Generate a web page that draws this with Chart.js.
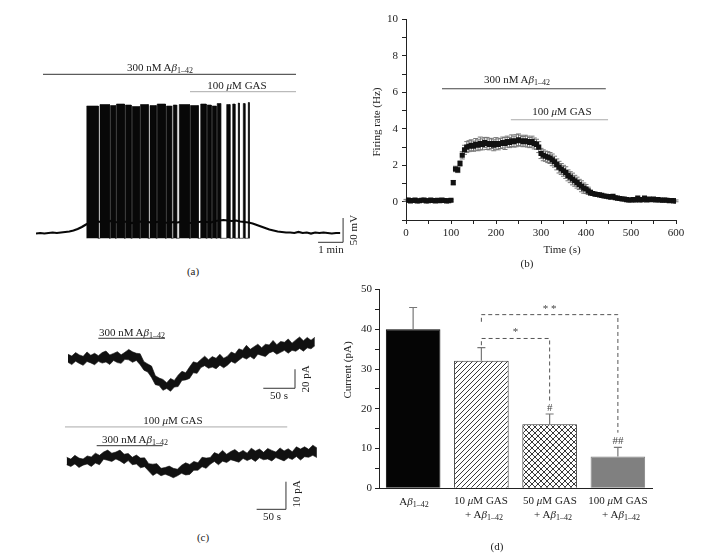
<!DOCTYPE html>
<html>
<head>
<meta charset="utf-8">
<script src="https://cdn.jsdelivr.net/npm/chart.js@4.4.1/dist/chart.umd.min.js"></script>
<style>
  body { margin: 0; background: #fff; }
  #fig { position: relative; width: 728px; height: 553px; overflow: hidden;
         font-family: "Liberation Serif", serif; font-size: 11px; color: #222; }
  #fig canvas { position: absolute; }
  .t { position: absolute; white-space: nowrap; line-height: 1; transform: translate(-50%, -50%); }
  .r { width: 120px; height: 14px; line-height: 14px; margin: -7px 0 0 -60px;
       text-align: center; transform: rotate(-90deg); }
  sub { font-size: 8px; vertical-align: -2px; line-height: 0; }
</style>
</head>
<body>
<div id="fig">
  <canvas id="chartA" width="320" height="190" style="left:36px;top:60px"></canvas>
  <canvas id="chartB" width="330" height="262" style="left:360px;top:8px"></canvas>
  <canvas id="chartC1" width="260" height="75" style="left:60px;top:330px"></canvas>
  <canvas id="chartC2" width="260" height="110" style="left:60px;top:415px"></canvas>
  <canvas id="chartD" width="328" height="270" style="left:334px;top:280px"></canvas>

  <!-- panel (a) -->
  <div class="t" style="left:160px;top:67px">300 nM A<i>β</i><sub>1–42</sub></div>
  <div class="t" style="left:237px;top:85px">100 <i>μ</i>M GAS</div>
  <div class="t r" style="left:353px;top:230px">50 mV</div>
  <div class="t" style="left:331px;top:249px">1 min</div>
  <div class="t" style="left:193px;top:271px">(a)</div>

  <!-- panel (b) -->
  <div class="t" style="left:517px;top:79px">300 nM A<i>β</i><sub>1–42</sub></div>
  <div class="t" style="left:562px;top:111px">100 <i>μ</i>M GAS</div>
  <div class="t r" style="left:376px;top:122px">Firing rate (Hz)</div>
  <div class="t" style="left:562px;top:249px">Time (s)</div>
  <div class="t" style="left:527px;top:263px">(b)</div>

  <!-- panel (c) -->
  <div class="t" style="left:132px;top:332px">300 nM A<i>β</i><sub>1–42</sub></div>
  <div class="t" style="left:279px;top:395px">50 s</div>
  <div class="t r" style="left:305px;top:379px">20 pA</div>
  <div class="t" style="left:173px;top:420px">100 <i>μ</i>M GAS</div>
  <div class="t" style="left:135px;top:439px">300 nM A<i>β</i><sub>1–42</sub></div>
  <div class="t r" style="left:296px;top:494px">10 pA</div>
  <div class="t" style="left:272px;top:516px">50 s</div>
  <div class="t" style="left:203px;top:537px">(c)</div>

  <!-- panel (d) -->
  <div class="t r" style="left:347px;top:370px">Current (pA)</div>
  <div class="t" style="left:414px;top:501px">A<i>β</i><sub>1–42</sub></div>
  <div class="t" style="left:481px;top:500px">10 <i>μ</i>M GAS</div>
  <div class="t" style="left:484px;top:514px">+ A<i>β</i><sub>1–42</sub></div>
  <div class="t" style="left:550px;top:500px">50 <i>μ</i>M GAS</div>
  <div class="t" style="left:553px;top:514px">+ A<i>β</i><sub>1–42</sub></div>
  <div class="t" style="left:618px;top:500px">100 <i>μ</i>M GAS</div>
  <div class="t" style="left:621px;top:514px">+ A<i>β</i><sub>1–42</sub></div>
  <div class="t" style="left:497px;top:546px">(d)</div>
</div>

<script>
// ---------------------------------------------------------------------------
// Data
// ---------------------------------------------------------------------------

// (a) membrane potential trace, time in s, potential in mV (relative to rest)
const aTraceTime = [
  0, 10, 20, 30, 40, 50, 60, 70, 80, 90,
  100, 110, 120, 130, 140, 150, 160, 170, 180, 190,
  200, 210, 220, 230, 240, 250, 260, 270, 280, 290,
  300, 310, 320, 330, 340, 350, 360, 370, 380, 390,
  400, 410, 420, 430, 440, 450, 460, 470, 480, 490,
  500, 510, 520, 530, 540, 550, 560, 570, 580, 590,
  600, 610, 620, 630, 640, 650, 660, 670, 680, 690,
  700, 710, 720, 730
];
const aTraceValue = [
  -1, 0, -1, 0, 1, 0, 1, 2, 3, 5,
  8, 12, 17, 21, 22, 23, 21, 22, 24, 22,
  21, 23, 22, 20, 22, 23, 21, 22, 20, 22,
  23, 21, 20, 22, 21, 23, 22, 20, 21, 22,
  23, 22, 21, 24, 25, 26, 25, 24, 25, 23,
  22, 21, 19, 16, 13, 10, 7, 5, 3, 2,
  1, 1, 0, 2, 0, 1, -1, 1, 0, 1,
  0, -1, 0, 0
];
// spike bursts: start / end time (s) and peak (mV)
const aBurstStart = [121.7, 153.6, 178.8, 193.2, 214.8, 230.9, 250.8, 273.6, 290.9, 313.2, 329.5,
                     343.9, 370.8, 395.3, 410.9, 422.9, 434.9, 457.7, 472.1, 485.5, 497.5, 509.5];
const aBurstEnd   = [149.5, 176.4, 190.8, 212.4, 228.5, 248.4, 269.5, 288.5, 310.8, 325.7, 337.7,
                     368.4, 389.5, 408.5, 420.5, 432.5, 443.3, 465.6, 477.6, 487.9, 501.6, 511.9];
const aBurstPeak  = [254, 257, 255, 258, 256, 253, 257, 255, 258, 254, 256,
                     257, 255, 258, 256, 254, 259, 257, 258, 260, 259, 261];
const aSpikeTrough = -10.6;

// (b) firing rate (Hz) vs time (s), mean and SEM
const rateTime = [
  0, 5, 10, 15, 20, 25, 30, 35, 40, 45,
  50, 55, 60, 65, 70, 75, 80, 85, 90, 95,
  100, 105, 110, 115, 120, 125, 130, 135, 140, 145,
  150, 155, 160, 165, 170, 175, 180, 185, 190, 195,
  200, 205, 210, 215, 220, 225, 230, 235, 240, 245,
  250, 255, 260, 265, 270, 275, 280, 285, 290, 295,
  300, 305, 310, 315, 320, 325, 330, 335, 340, 345,
  350, 355, 360, 365, 370, 375, 380, 385, 390, 395,
  400, 405, 410, 415, 420, 425, 430, 435, 440, 445,
  450, 455, 460, 465, 470, 475, 480, 485, 490, 495,
  500, 505, 510, 515, 520, 525, 530, 535, 540, 545,
  550, 555, 560, 565, 570, 575, 580, 585, 590, 595,
  600
];
const rateMean = [
  0.08, 0.10, 0.05, 0.07, 0.10, 0.04, 0.06, 0.08, 0.10, 0.05,
  0.06, 0.09, 0.07, 0.05, 0.08, 0.06, 0.10, 0.07, 0.05, 0.06,
  0.08, 1.05, 1.80, 1.75, 2.10, 2.55, 2.85, 3.00, 3.05, 3.10,
  3.05, 3.15, 3.10, 3.20, 3.15, 3.25, 3.20, 3.15, 3.20, 3.10,
  3.20, 3.15, 3.20, 3.25, 3.20, 3.30, 3.25, 3.35, 3.30, 3.35,
  3.40, 3.35, 3.30, 3.35, 3.30, 3.25, 3.30, 3.20, 3.15, 3.00,
  2.65, 2.55, 2.50, 2.45, 2.40, 2.30, 2.20, 2.05, 1.90, 1.80,
  1.70, 1.60, 1.45, 1.35, 1.25, 1.15, 1.05, 0.95, 0.85, 0.75,
  0.70, 0.60, 0.50, 0.45, 0.42, 0.40, 0.38, 0.35, 0.32, 0.30,
  0.28, 0.25, 0.30, 0.22, 0.20, 0.18, 0.15, 0.15, 0.12, 0.10,
  0.10, 0.12, 0.10, 0.20, 0.10, 0.12, 0.20, 0.10, 0.15, 0.12,
  0.15, 0.10, 0.12, 0.10, 0.08, 0.10, 0.08, 0.06, 0.07, 0.05,
  0.05
];
const rateSem = [
  0.05, 0.05, 0.05, 0.05, 0.05, 0.05, 0.05, 0.05, 0.05, 0.05,
  0.05, 0.05, 0.05, 0.05, 0.05, 0.05, 0.05, 0.05, 0.05, 0.05,
  0.05, 0.12, 0.15, 0.15, 0.15, 0.20, 0.25, 0.30, 0.30, 0.30,
  0.28, 0.32, 0.30, 0.35, 0.30, 0.28, 0.33, 0.30, 0.28, 0.30,
  0.32, 0.30, 0.28, 0.30, 0.33, 0.30, 0.28, 0.32, 0.30, 0.33,
  0.32, 0.30, 0.28, 0.30, 0.30, 0.28, 0.30, 0.30, 0.28, 0.30,
  0.28, 0.30, 0.28, 0.30, 0.30, 0.32, 0.30, 0.30, 0.32, 0.30,
  0.30, 0.32, 0.30, 0.30, 0.32, 0.30, 0.30, 0.28, 0.30, 0.28,
  0.25, 0.20, 0.15, 0.10, 0.08, 0.08, 0.06, 0.06, 0.05, 0.05,
  0.05, 0.05, 0.05, 0.05, 0.05, 0.05, 0.05, 0.05, 0.05, 0.05,
  0.05, 0.05, 0.05, 0.05, 0.05, 0.05, 0.05, 0.05, 0.05, 0.05,
  0.05, 0.05, 0.05, 0.05, 0.05, 0.05, 0.05, 0.05, 0.05, 0.05,
  0.05
];

// (c) holding current traces: time (s), centre (pA) and noise envelope (pA)
const c1Time = [
  0, 6, 12, 18, 24, 30, 36, 42, 48, 54,
  60, 66, 72, 78, 84, 90, 96, 102, 108, 114,
  120, 126, 132, 138, 144, 150, 156, 162, 168, 174,
  180, 186, 192, 198, 204, 210, 216, 222, 228, 234,
  240, 246, 252, 258, 264, 270, 276, 282, 288, 294,
  300, 306, 312, 318, 324, 330, 336, 342, 348, 354,
  360, 366, 372, 378, 384, 390
];
const c1Current = [
  0, 0.1, 0.2, 0.3, 0.3, 0.4, 0.4, 0.5, 0.5, 0.7,
  0.9, 1.2, 1.4, 1.7, 1.9, 2.1, 3.1, 4.0, 2.0, -1.0,
  -5.8, -10.7, -15, -20, -24.5, -27.5, -28.5, -27.5, -25.5, -22,
  -19.5, -17, -14, -11, -7.6, -5, -4, -3.8, -3.5, -3.3,
  -3, -2.8, -2, 0.4, 2.4, 4.2, 5.3, 5.9, 6.7, 7.4,
  8.1, 8.8, 9.5, 10.3, 11, 11.5, 12, 12.6, 13.1, 13.6,
  14.1, 14.6, 15.2, 15.7, 16.2, 16.8
];
const c1NoiseUp = [
  5, 3, 6.5, 4, 2.5, 7, 3.5, 5.5, 3, 6,
  7.5, 3, 4.5, 6, 2.5, 5, 7, 3.5, 4, 6.5,
  3, 5.5, 7.5, 2.5, 4.5, 6, 3.5, 7, 3, 5,
  6.5, 2.5, 5.5, 8, 3.5, 4.5, 7, 3, 6, 4,
  8, 3.5, 5, 7, 3, 6.5, 4, 8.5, 3.5, 5.5,
  7.5, 3, 6, 4.5, 8.5, 3.5, 6.5, 5, 8, 3,
  6, 8.5, 4, 7, 3.5, 6
];
const c1NoiseDown = [
  3.5, 6, 2.5, 5, 7, 3, 4.5, 6.5, 3, 5,
  4, 7, 3, 5.5, 6.5, 2.5, 4, 7.5, 3.5, 5,
  6, 3, 4.5, 7, 3.5, 5.5, 2.5, 6.5, 4, 7,
  3, 5, 6.5, 3.5, 7.5, 4, 3, 6, 5, 7,
  3.5, 6.5, 4.5, 3, 7, 5.5, 3.5, 6, 4, 7.5,
  3, 5, 7, 4, 3, 6.5, 5, 3.5, 7, 4.5,
  6, 3.5, 7, 4, 5.5, 3
];
const c2Time = [
  0, 7, 14, 21, 28, 35, 42, 49, 56, 63,
  70, 77, 84, 91, 98, 105, 112, 119, 126, 133,
  140, 147, 154, 161, 168, 175, 182, 189, 196, 203,
  210, 217, 224, 231, 238, 245, 252, 259, 266, 273,
  280, 287, 294, 301, 308, 315, 322, 329, 336, 343,
  350, 357, 364, 371, 378, 385, 392, 399, 406, 413,
  420, 427
];
const c2Current = [
  0, 0.05, 0.1, 0.1, 0.15, 0.2, 0.3, 0.8, 1.3, 1.8,
  2.1, 2.2, 2.0, 1.8, 1.6, 1.2, 0.8, 0.4, 0, -0.8,
  -1.7, -2.6, -3.0, -3.3, -3.6, -3.7, -3.6, -3.5, -3.2, -2.8,
  -2.3, -1.9, -1.4, -0.9, -0.3, 0.6, 1.1, 1.3, 1.5, 1.6,
  1.8, 1.9, 2.0, 2.1, 2.2, 2.3, 2.4, 2.4, 2.4, 2.4,
  2.4, 2.4, 2.4, 2.5, 2.6, 2.7, 2.9, 3.0, 3.1, 3.3,
  3.4, 3.5
];
const c2NoiseUp = [
  1.6, 0.9, 2.2, 1.2, 0.8, 1.9, 1.4, 2.3, 1.0, 1.7,
  2.1, 0.9, 1.5, 2.4, 1.1, 1.8, 0.8, 2.0, 1.3, 2.2,
  1.0, 1.7, 2.3, 0.9, 1.5, 2.1, 1.2, 0.8, 1.9, 2.4,
  1.3, 2.0, 1.0, 2.5, 1.6, 0.9, 2.2, 1.4, 2.6, 1.1,
  1.9, 2.5, 1.2, 2.0, 0.9, 2.6, 1.5, 2.2, 1.0, 2.4,
  1.7, 1.1, 2.6, 1.4, 2.1, 0.9, 2.5, 1.6, 2.3, 1.2,
  2.6, 1.5
];
const c2NoiseDown = [
  1.1, 1.8, 0.9, 2.2, 1.4, 1.0, 2.0, 1.3, 2.4, 0.9,
  1.6, 2.1, 1.0, 1.5, 2.3, 0.8, 1.9, 1.2, 2.2, 1.0,
  1.7, 2.4, 1.1, 1.8, 0.9, 1.4, 2.2, 1.6, 1.0, 2.0,
  2.3, 1.2, 1.7, 0.9, 2.1, 1.5, 1.0, 2.4, 1.3, 1.9,
  1.1, 1.6, 2.2, 0.9, 1.8, 1.2, 2.3, 1.0, 1.7, 1.4,
  2.1, 0.9, 1.5, 2.2, 1.2, 1.9, 1.0, 2.4, 1.3, 1.7,
  1.1, 2.0
];

// (d) current amplitude (pA), mean and SEM per group
const currentGroups = ["Aβ1-42", "10 μM GAS + Aβ1-42", "50 μM GAS + Aβ1-42", "100 μM GAS + Aβ1-42"];
const currentMean = [40.0, 32.1, 16.1, 8.0];
const currentSem = [5.5, 3.3, 2.6, 2.3];
const currentHash = ["", "", "#", "##"];

// ---------------------------------------------------------------------------
// Annotation geometry (drug application bars, scale bars, brackets) in data units
// ---------------------------------------------------------------------------
const aAbetaBar = [16.8, 624, 317.4];
const aGasBar = [369.6, 624, 282.6];
const aScaleBar = { x0: 677, x1: 737, y0: -18.6, y1: 30 };

const bAbetaBar = [80, 444, 6.2];
const bGasBar = [233, 449, 4.5];

const c1AbetaBar = [47.9, 153.3, 21.8];
const c1ScaleBar = { x0: 308.6, x1: 358.7, y0: -30.8, y1: -10.8 };
const c2GasBar = [-2.9, 376.4, 12.6];
const c2AbetaBar = [51.2, 163.8, 5.8];
const c2ScaleBar = { x0: 324.2, x1: 374.2, y0: -17.25, y1: -7.25 };

const dBrackets = [
  { from: 1, to: 2, top: 37.7, leftEnd: 36.0, rightEnd: 21.4, text: "*" },
  { from: 1, to: 3, top: 43.7, leftEnd: 41.9, rightEnd: 14.0, text: "* *" }
];

// ---------------------------------------------------------------------------
// Shared settings
// ---------------------------------------------------------------------------
Chart.defaults.font.family = '"Liberation Serif", serif';
Chart.defaults.font.size = 11;
Chart.defaults.color = "#222";

function hline(bar, color) {
  return {
    type: "line",
    data: [{ x: bar[0], y: bar[2] }, { x: bar[1], y: bar[2] }],
    borderColor: color, borderWidth: 1, pointRadius: 0
  };
}

function scaleBarSet(sb) {
  return {
    type: "line",
    data: [{ x: sb.x0, y: sb.y0 }, { x: sb.x1, y: sb.y0 }, { x: sb.x1, y: sb.y1 }],
    borderColor: "#333", borderWidth: 1, pointRadius: 0
  };
}

function traceOptions(xMin, xMax, yMin, yMax) {
  return {
    responsive: false,
    animation: false,
    events: [],
    layout: { padding: 0 },
    plugins: { legend: { display: false }, tooltip: { enabled: false } },
    scales: {
      x: { type: "linear", display: false, min: xMin, max: xMax },
      y: { type: "linear", display: false, min: yMin, max: yMax }
    }
  };
}

function noiseBand(times, centre, up, down) {
  return [
    {
      data: times.map((t, i) => ({ x: t, y: centre[i] + up[i] })),
      borderColor: "#111", borderWidth: 0.6, backgroundColor: "#111",
      pointRadius: 0, fill: "+1"
    },
    {
      data: times.map((t, i) => ({ x: t, y: centre[i] - down[i] })),
      borderColor: "#111", borderWidth: 0.6, pointRadius: 0, fill: false
    }
  ];
}

// ---------------------------------------------------------------------------
// (a) Spontaneous firing trace
// ---------------------------------------------------------------------------
const burstOutline = [];
aBurstStart.forEach((s, i) => {
  burstOutline.push(
    { x: s, y: aSpikeTrough },
    { x: s, y: aBurstPeak[i] },
    { x: aBurstEnd[i], y: aBurstPeak[i] },
    { x: aBurstEnd[i], y: aSpikeTrough }
  );
});

new Chart(document.getElementById("chartA"), {
  type: "line",
  data: {
    datasets: [
      {
        data: burstOutline, pointRadius: 0, tension: 0,
        borderWidth: 0.6, borderColor: "#080808", backgroundColor: "#080808",
        fill: { value: aSpikeTrough }
      },
      {
        data: aTraceTime.map((t, i) => ({ x: t, y: aTraceValue[i] })),
        borderColor: "#080808", borderWidth: 2.2, pointRadius: 0
      },
      hline(aAbetaBar, "#333"),
      hline(aGasBar, "#aaa"),
      scaleBarSet(aScaleBar)
    ]
  },
  options: traceOptions(0, 768, -34, 346)
});

// ---------------------------------------------------------------------------
// (b) Firing rate over time with error bars
// ---------------------------------------------------------------------------
const rateErrorBars = {
  id: "rateErrorBars",
  beforeDatasetsDraw(chart) {
    const { ctx, scales: { y } } = chart;
    const meta = chart.getDatasetMeta(0);
    ctx.save();
    ctx.strokeStyle = "#777";
    ctx.lineWidth = 1;
    meta.data.forEach((pt, i) => {
      const top = y.getPixelForValue(rateMean[i] + rateSem[i]);
      const bot = y.getPixelForValue(rateMean[i] - rateSem[i]);
      ctx.beginPath();
      ctx.moveTo(pt.x, top); ctx.lineTo(pt.x, bot);
      ctx.moveTo(pt.x - 2.5, top); ctx.lineTo(pt.x + 2.5, top);
      ctx.moveTo(pt.x - 2.5, bot); ctx.lineTo(pt.x + 2.5, bot);
      ctx.stroke();
    });
    ctx.restore();
  }
};

new Chart(document.getElementById("chartB"), {
  type: "scatter",
  data: {
    datasets: [
      {
        data: rateTime.map((t, i) => ({ x: t, y: rateMean[i] })),
        pointStyle: "rect", pointRadius: 3.6,
        backgroundColor: "#111", borderColor: "#111", borderWidth: 0
      },
      Object.assign(hline(bAbetaBar, "#444"), { showLine: true }),
      Object.assign(hline(bGasBar, "#aaa"), { showLine: true })
    ]
  },
  options: {
    responsive: false,
    animation: false,
    events: [],
    layout: { padding: { top: 11.5, right: 14, left: 0, bottom: 0 } },
    plugins: { legend: { display: false }, tooltip: { enabled: false } },
    scales: {
      x: {
        type: "linear", min: 0, max: 600,
        ticks: { stepSize: 50, autoSkip: false, maxRotation: 0, padding: 3,
                 callback: v => (v % 100 === 0 ? v : "") },
        grid: { drawOnChartArea: false, tickLength: 4, color: "#222" },
        border: { color: "#222" },
        afterFit: s => { s.height = 50; }
      },
      y: {
        type: "linear", min: -1, max: 10,
        ticks: { stepSize: 1, autoSkip: false, padding: 4,
                 callback: v => (v >= 0 && v % 2 === 0 ? v : "") },
        grid: { drawOnChartArea: false, tickLength: 4, color: "#222" },
        border: { color: "#222" },
        afterFit: s => { s.width = 46; }
      }
    }
  },
  plugins: [rateErrorBars]
});

// ---------------------------------------------------------------------------
// (c) Holding current traces
// ---------------------------------------------------------------------------
new Chart(document.getElementById("chartC1"), {
  type: "line",
  data: {
    datasets: [
      ...noiseBand(c1Time, c1Current, c1NoiseUp, c1NoiseDown),
      hline(c1AbetaBar, "#333"),
      scaleBarSet(c1ScaleBar)
    ]
  },
  options: traceOptions(-12.64, 398.2, -48.4, 30.5)
});

new Chart(document.getElementById("chartC2"), {
  type: "line",
  data: {
    datasets: [
      ...noiseBand(c2Time, c2Current, c2NoiseUp, c2NoiseDown),
      hline(c2GasBar, "#aaa"),
      hline(c2AbetaBar, "#333"),
      scaleBarSet(c2ScaleBar)
    ]
  },
  options: traceOptions(-11.4, 432.3, -22.93, 16.92)
});

// ---------------------------------------------------------------------------
// (d) Bar chart of current amplitude
// ---------------------------------------------------------------------------
function makePattern(size, cross) {
  const c = document.createElement("canvas");
  c.width = size; c.height = size;
  const g = c.getContext("2d");
  g.fillStyle = "#fff";
  g.fillRect(0, 0, size, size);
  g.strokeStyle = "#222";
  g.lineWidth = 0.9;
  g.beginPath();
  g.moveTo(0, size); g.lineTo(size, 0);
  g.moveTo(-1, 1); g.lineTo(1, -1);
  g.moveTo(size - 1, size + 1); g.lineTo(size + 1, size - 1);
  if (cross) {
    g.moveTo(0, 0); g.lineTo(size, size);
    g.moveTo(size - 1, -1); g.lineTo(size + 1, 1);
    g.moveTo(-1, size - 1); g.lineTo(1, size + 1);
  }
  g.stroke();
  return g.createPattern(c, "repeat");
}

const currentMarks = {
  id: "currentMarks",
  afterDatasetsDraw(chart) {
    const { ctx, scales: { x, y } } = chart;
    ctx.save();
    // one-sided SEM bars
    ctx.strokeStyle = "#777";
    ctx.lineWidth = 1.2;
    currentMean.forEach((m, i) => {
      const px = x.getPixelForValue(i);
      const y0 = y.getPixelForValue(m);
      const y1 = y.getPixelForValue(m + currentSem[i]);
      ctx.beginPath();
      ctx.moveTo(px, y0); ctx.lineTo(px, y1);
      ctx.moveTo(px - 4, y1); ctx.lineTo(px + 4, y1);
      ctx.stroke();
    });
    // significance brackets
    ctx.strokeStyle = "#555";
    ctx.lineWidth = 1;
    ctx.setLineDash([4, 3]);
    ctx.font = '11px "Liberation Serif", serif';
    ctx.fillStyle = "#444";
    ctx.textAlign = "center";
    ctx.textBaseline = "middle";
    dBrackets.forEach(b => {
      const xl = x.getPixelForValue(b.from);
      const xr = x.getPixelForValue(b.to);
      const yt = y.getPixelForValue(b.top);
      ctx.beginPath();
      ctx.moveTo(xl, y.getPixelForValue(b.leftEnd));
      ctx.lineTo(xl, yt);
      ctx.lineTo(xr, yt);
      ctx.lineTo(xr, y.getPixelForValue(b.rightEnd));
      ctx.stroke();
      ctx.fillText(b.text, (xl + xr) / 2, yt - 6);
    });
    ctx.setLineDash([]);
    currentHash.forEach((h, i) => {
      if (!h) return;
      ctx.fillText(h, x.getPixelForValue(i), y.getPixelForValue(currentMean[i] + currentSem[i]) - 6);
    });
    ctx.restore();
  }
};

new Chart(document.getElementById("chartD"), {
  type: "bar",
  data: {
    labels: currentGroups,
    datasets: [{
      data: currentMean,
      backgroundColor: ["#050505", makePattern(5, false), makePattern(6, true), "#808080"],
      borderColor: ["#000", "#333", "#333", "#808080"],
      borderWidth: 1,
      barPercentage: 0.8,
      categoryPercentage: 1.0
    }]
  },
  options: {
    responsive: false,
    animation: false,
    events: [],
    layout: { padding: { top: 9.3, right: 10, left: 0, bottom: 0 } },
    plugins: { legend: { display: false }, tooltip: { enabled: false } },
    scales: {
      x: {
        ticks: { display: false },
        grid: { display: false },
        border: { display: true, color: "#222" },
        afterFit: s => { s.height = 61.7; }
      },
      y: {
        min: 0, max: 50,
        ticks: { stepSize: 5, autoSkip: false, padding: 3,
                 callback: v => (v % 10 === 0 ? v : "") },
        grid: { drawOnChartArea: false, tickLength: 4, color: "#222" },
        border: { color: "#222" },
        afterFit: s => { s.width = 45; }
      }
    }
  },
  plugins: [currentMarks]
});
</script>
</body>
</html>
